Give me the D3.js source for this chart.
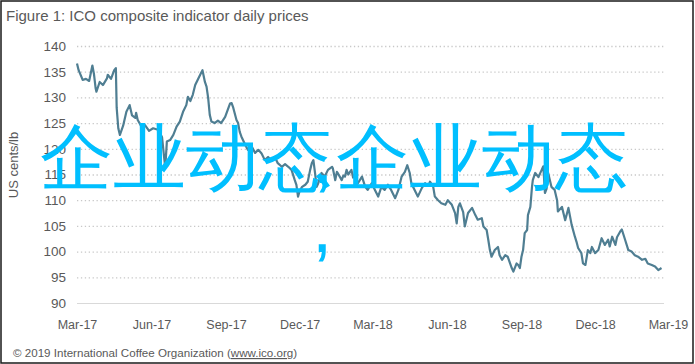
<!DOCTYPE html>
<html>
<head>
<meta charset="utf-8">
<script src="https://cdn.jsdelivr.net/npm/d3@7"></script>
<style>
    body { margin: 0; background: #fff; }
    svg { display: block; }
    text { font-family: "Liberation Sans", Arial, sans-serif; }
</style>
</head>
<body>
<svg id="chart" width="695" height="364"></svg>
<script>
const title = "Figure 1: ICO composite indicator daily prices";
const yTitle = "US cents/lb";
const footer = "© 2019 International Coffee Organization (";
const footerLink = "www.ico.org";
const overlayWord = "企业动态";

const yTicks = [90, 95, 100, 105, 110, 115, 120, 125, 130, 135, 140];
const xTickDates = ["2017-03-01", "2017-06-01", "2017-09-01", "2017-12-01", "2018-03-01",
    "2018-06-01", "2018-09-01", "2018-12-01", "2019-03-01"];
const xTickLabels = ["Mar-17", "Jun-17", "Sep-17", "Dec-17", "Mar-18", "Jun-18", "Sep-18", "Dec-18", "Mar-19"];

const dates = [
    "2017-03-01", "2017-03-03", "2017-03-07", "2017-03-08", "2017-03-12", "2017-03-16", "2017-03-20", "2017-03-22", "2017-03-24", "2017-03-25",
    "2017-03-29", "2017-04-02", "2017-04-07", "2017-04-08", "2017-04-12", "2017-04-16", "2017-04-18", "2017-04-19", "2017-04-21", "2017-04-23",
    "2017-04-27", "2017-05-01", "2017-05-05", "2017-05-08", "2017-05-12", "2017-05-13", "2017-05-15", "2017-05-19", "2017-05-24", "2017-05-29",
    "2017-06-03", "2017-06-09", "2017-06-14", "2017-06-18", "2017-06-20", "2017-06-24", "2017-06-28", "2017-07-02", "2017-07-06", "2017-07-10",
    "2017-07-14", "2017-07-16", "2017-07-19", "2017-07-22", "2017-07-25", "2017-07-28", "2017-08-02", "2017-08-03", "2017-08-06", "2017-08-08",
    "2017-08-10", "2017-08-12", "2017-08-14", "2017-08-18", "2017-08-22", "2017-08-26", "2017-08-31", "2017-09-06", "2017-09-08", "2017-09-10",
    "2017-09-14", "2017-09-16", "2017-09-18", "2017-09-20", "2017-09-25", "2017-09-28", "2017-10-03", "2017-10-07", "2017-10-11", "2017-10-15",
    "2017-10-19", "2017-10-23", "2017-10-27", "2017-11-01", "2017-11-04", "2017-11-09", "2017-11-13", "2017-11-17", "2017-11-21", "2017-11-25",
    "2017-11-27", "2017-11-29", "2017-12-01", "2017-12-04", "2017-12-08", "2017-12-11", "2017-12-14", "2017-12-16", "2017-12-18", "2017-12-20",
    "2017-12-22", "2017-12-24", "2017-12-28",
    "2018-01-01", "2018-01-05", "2018-01-10", "2018-01-11", "2018-01-14", "2018-01-16", "2018-01-17", "2018-01-22", "2018-01-24", "2018-01-26",
    "2018-01-28", "2018-01-30", "2018-02-03", "2018-02-05", "2018-02-07", "2018-02-11", "2018-02-16", "2018-02-20", "2018-02-23", "2018-02-28",
    "2018-03-04", "2018-03-08", "2018-03-12", "2018-03-16", "2018-03-20", "2018-03-24", "2018-03-29", "2018-04-02", "2018-04-06", "2018-04-10",
    "2018-04-13", "2018-04-16", "2018-04-18", "2018-04-22", "2018-04-26", "2018-05-01", "2018-05-05", "2018-05-09", "2018-05-11", "2018-05-15",
    "2018-05-17", "2018-05-21", "2018-05-25", "2018-05-30", "2018-06-02", "2018-06-07", "2018-06-11", "2018-06-13", "2018-06-15", "2018-06-17",
    "2018-06-21", "2018-06-23", "2018-06-27", "2018-07-02", "2018-07-06", "2018-07-09", "2018-07-14", "2018-07-16", "2018-07-20", "2018-07-22",
    "2018-07-24", "2018-07-26", "2018-07-30", "2018-08-03", "2018-08-05", "2018-08-08", "2018-08-12", "2018-08-15", "2018-08-20", "2018-08-22",
    "2018-08-26", "2018-08-28", "2018-08-30", "2018-09-01", "2018-09-03", "2018-09-05", "2018-09-08", "2018-09-09", "2018-09-12", "2018-09-14",
    "2018-09-15", "2018-09-18", "2018-09-22", "2018-09-26", "2018-09-28", "2018-09-30", "2018-10-02", "2018-10-04", "2018-10-08", "2018-10-12",
    "2018-10-15", "2018-10-16", "2018-10-21", "2018-10-25", "2018-10-29", "2018-11-02", "2018-11-06", "2018-11-08", "2018-11-10", "2018-11-14",
    "2018-11-16", "2018-11-19", "2018-11-22", "2018-11-25", "2018-11-27", "2018-12-01", "2018-12-05", "2018-12-09", "2018-12-13", "2018-12-17",
    "2018-12-19", "2018-12-22", "2018-12-26", "2018-12-28",
    "2019-01-01", "2019-01-03", "2019-01-07", "2019-01-11", "2019-01-15", "2019-01-19", "2019-01-23", "2019-01-28", "2019-02-01", "2019-02-04",
    "2019-02-09", "2019-02-13", "2019-02-17", "2019-02-21"
];

const prices = [
    136.6, 135.3, 133.8, 133.4, 133.6, 133.2, 136.2, 134.5, 131.8, 131.1,
    133, 132.4, 133.7, 134.4, 133.6, 135.3, 135.7, 128, 124, 122.7,
    124.5, 127.2, 128.5, 126.5, 126, 127, 125.6, 124.5, 124.6, 123.5,
    124, 123.7, 122.3, 116.3, 121.4, 121.7, 122.7, 124.3, 125.3, 127.2,
    128.5, 130.1, 129.3, 130.5, 132.4, 133.4, 135, 135.3, 133, 132.1,
    129.9, 126.6, 125.3, 125, 125.5, 125, 126.2, 128.8, 128.9, 128,
    125.6, 125, 123.3, 122.4, 120.7, 119.8, 120.4, 119.2, 119.8, 119.1,
    117.8, 118.4, 117.8, 118.2, 117.2, 116.5, 117, 116.5, 115.9, 113.9,
    113, 110.7, 111.8, 112.6, 113, 113.6, 115.9, 117.2, 117.8, 115.3,
    112.6, 113.3, 115.3,
    114.6, 115.9, 116.5, 116.2, 113.9, 115.5, 115.3, 113.9, 114.8, 114.6,
    115.9, 115, 115.9, 114.4, 115, 113.3, 114.6, 112.6, 112, 113.3,
    112, 110.7, 112.6, 112, 113, 112, 110.4, 112, 114.6, 115.5,
    116.8, 115.3, 113.3, 112, 110.7, 112.4, 113.3, 112.8, 113.6, 112.6,
    110.7, 110, 109.4, 109.1, 110, 109.1, 107.5, 105.5, 108.7, 109.4,
    107.7, 104.9, 107.5, 108.5, 107.1, 106.2, 106.5, 104.9, 104.2, 102.3,
    100.3, 99, 100.3, 100.9, 99.3, 98.4, 99.3, 99, 96.8, 96.1,
    97.7, 97.4, 96.8, 99, 100.3, 103.6, 104.2, 107.1, 108.7, 112.6,
    113.9, 115.3, 114.5, 115.9, 116.6, 111.4, 112.2, 115.3, 112.6, 112,
    110, 107.8, 108.7, 106.1, 108.5, 105.2, 102.9, 101.9, 100.7, 99.7,
    97.7, 97.4, 100.3, 99.7, 100.9, 99.7, 100.3, 102.6, 101.3, 102.3,
    101, 102.9, 101.3, 102.8,
    103.9, 104.3, 102.3, 100.3, 100, 99.3, 99, 98.4, 98.6, 97.7,
    97.4, 97.1, 96.4, 96.8
];

const parseDate = d3.timeParse("%Y-%m-%d");
const svg = d3.select("#chart");
const width = 695, height = 364;
const plotLeft = 77, plotRight = 664, plotTop = 46, plotBottom = 303;
const textColor = "#595959";

const x = d3.scaleTime()
    .domain([parseDate(xTickDates[0]), parseDate(xTickDates[xTickDates.length - 1])])
    .range([77, 668]);
const y = d3.scaleLinear()
    .domain([90, 140])
    .range([plotBottom, plotTop]);

// frame
svg.append("rect")
    .attr("x", 1).attr("y", 1)
    .attr("width", width - 3).attr("height", height - 2)
    .attr("fill", "#fff")
    .attr("stroke", "#1a1a1a")
    .attr("stroke-width", 1.5);

svg.append("text")
    .attr("x", 6).attr("y", 21)
    .attr("font-size", 15)
    .attr("fill", textColor)
    .text(title);

// y grid + labels
svg.append("g")
    .attr("transform", `translate(${plotLeft},0)`)
    .call(d3.axisLeft(y).tickValues(yTicks).tickSize(-(plotRight - plotLeft)).tickPadding(11))
    .call(g => g.select(".domain").remove())
    .call(g => g.selectAll(".tick line")
        .attr("stroke", d => d === 90 ? "#d9d9d9" : "#c8c8c8")
        .attr("stroke-width", d => d === 90 ? 1 : 1.3)
        .attr("stroke-dasharray", d => d === 90 ? null : "1.3,2.6"))
    .call(g => g.selectAll(".tick text")
        .attr("fill", textColor)
        .attr("font-size", 13.5)
        .attr("font-family", "Liberation Sans, Arial, sans-serif"));

svg.append("g")
    .attr("transform", `translate(0,${plotBottom})`)
    .call(d3.axisBottom(x)
        .tickValues(xTickDates.map(parseDate))
        .tickFormat((d, i) => xTickLabels[i])
        .tickSize(0)
        .tickPadding(17))
    .call(g => g.select(".domain").remove())
    .call(g => g.selectAll(".tick text")
        .attr("fill", textColor)
        .attr("font-size", 12.5)
        .attr("font-family", "Liberation Sans, Arial, sans-serif"));

svg.append("text")
    .attr("transform", "translate(18,165) rotate(-90)")
    .attr("text-anchor", "middle")
    .attr("font-size", 13)
    .attr("fill", textColor)
    .text(yTitle);

const line = d3.line()
    .x((d, i) => x(parseDate(dates[i])))
    .y(d => y(d));

svg.append("path")
    .datum(prices)
    .attr("d", line)
    .attr("fill", "none")
    .attr("stroke", "#4f7e92")
    .attr("stroke-width", 2.2)
    .attr("stroke-linejoin", "round");

const foot = svg.append("text")
    .attr("x", 13).attr("y", 357)
    .attr("font-size", 11.6)
    .attr("fill", textColor);
foot.append("tspan").text(footer);
foot.append("tspan").attr("text-decoration", "underline").text(footerLink);
foot.append("tspan").text(")");

// watermark text laid over the chart
const overlay = svg.append("g")
    .attr("font-size", 73)
    .attr("font-family", "Noto Sans CJK SC")
    .attr("fill", "#00bfff");
overlay.append("text").attr("x", 40).attr("y", 183).text(overlayWord);
overlay.append("text").attr("x", 313).attr("y", 183).text(",");
overlay.append("text").attr("x", 336).attr("y", 183).text(overlayWord);
overlay.append("text").attr("x", 312).attr("y", 252).text(",");
</script>
</body>
</html>
